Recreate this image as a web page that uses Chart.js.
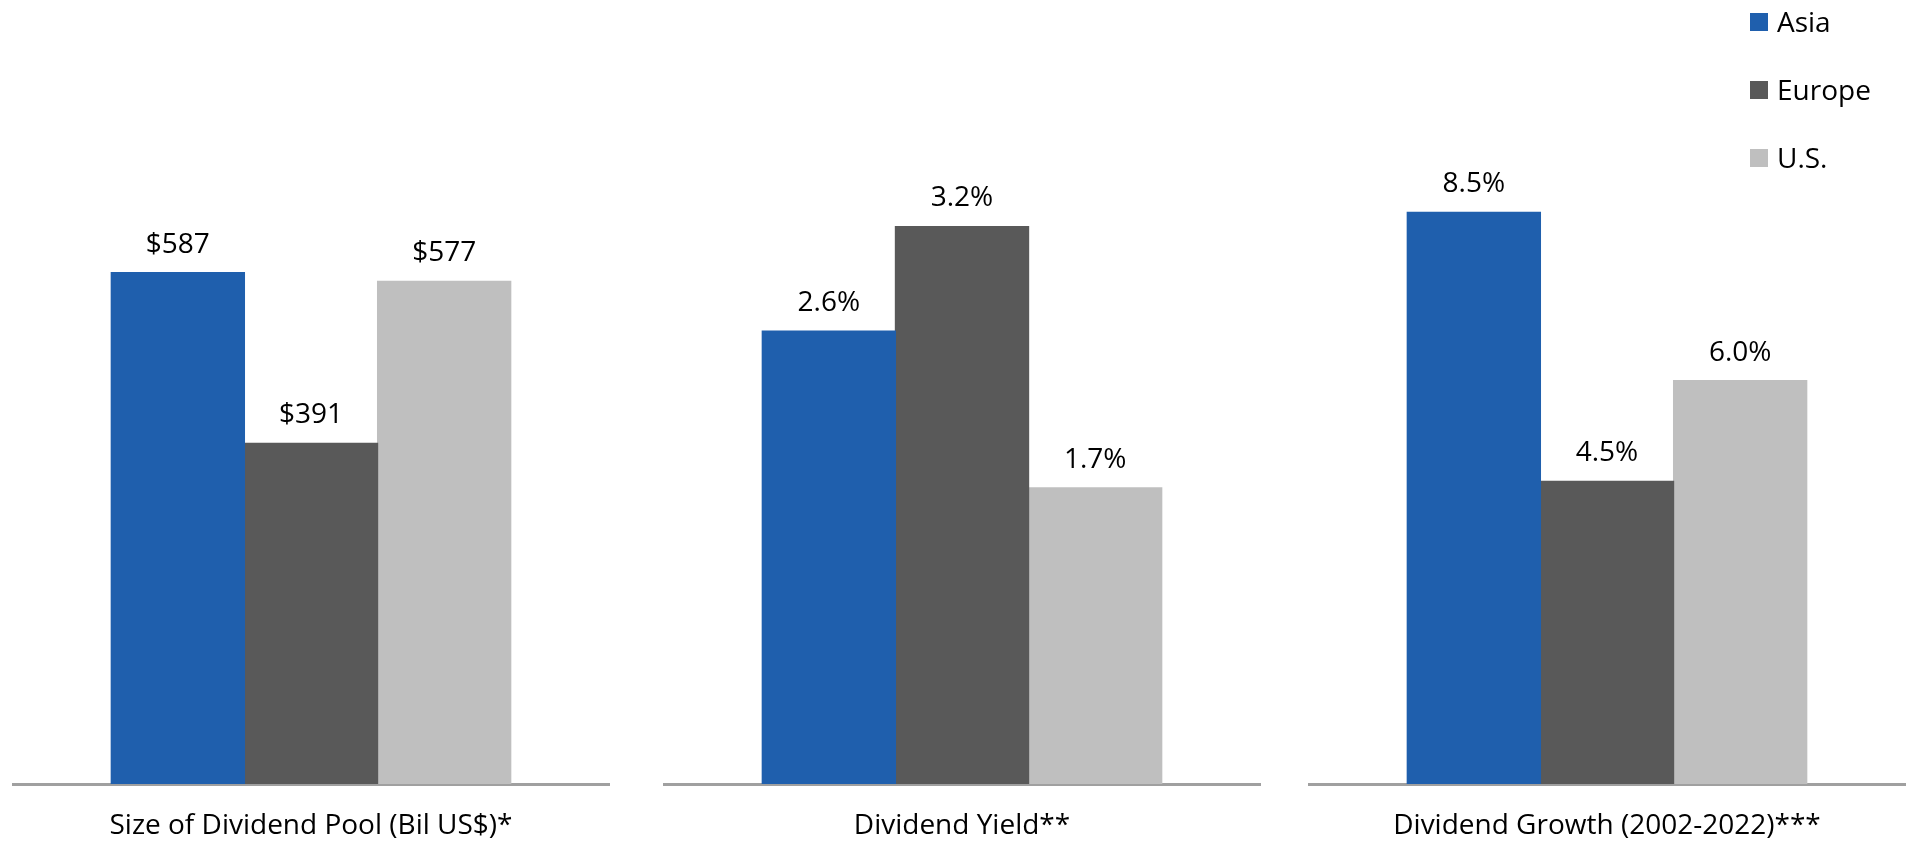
<!DOCTYPE html>
<html>
<head>
<meta charset="utf-8">
<script src="https://cdn.jsdelivr.net/npm/chart.js@4.4.1/dist/chart.umd.min.js"></script>
<style>
  body { margin: 0; background: #fff; width: 1911px; height: 843px; overflow: hidden; position: relative; font-family: "Open Sans", sans-serif; }
  canvas { position: absolute; top: 0; }
  #legend { position: absolute; left: 1750px; top: 0; }
  .item { position: absolute; left: 0; white-space: nowrap; font-size: 28px; color: #000; line-height: 28px; }
  .item span.box { display: inline-block; width: 18px; height: 18px; margin-right: 9px; vertical-align: 1px; }
</style>
</head>
<body>
<canvas id="c0" width="598" height="843" style="left:12px"></canvas>
<canvas id="c1" width="598" height="843" style="left:663px"></canvas>
<canvas id="c2" width="598" height="843" style="left:1308px"></canvas>
<div id="legend"></div>
<script>
// data
var categories = ['Size of Dividend Pool (Bil US$)*', 'Dividend Yield**', 'Dividend Growth (2002-2022)***'];
var seriesNames = ['Asia', 'Europe', 'U.S.'];
var asia = [587, 2.6, 8.5];
var europe = [391, 3.2, 4.5];
var us = [577, 1.7, 6.0];
var axisMax = [900, 4.5, 11.66];

var colors = ['#1F5FAD', '#595959', '#BFBFBF'];
var series = [asia, europe, us];

function fmt(panel, v) {
  if (panel === 0) return '$' + v;
  return v.toFixed(1) + '%';
}

var valueLabels = {
  id: 'valueLabels',
  afterDatasetsDraw: function (chart) {
    var ctx = chart.ctx;
    var panel = chart.options.panel;
    ctx.save();
    ctx.font = '28px "Open Sans"';
    ctx.fillStyle = '#000';
    ctx.textAlign = 'center';
    ctx.textBaseline = 'alphabetic';
    chart.data.datasets.forEach(function (ds, i) {
      chart.getDatasetMeta(i).data.forEach(function (bar, j) {
        ctx.fillText(fmt(panel, ds.data[j]), bar.x, bar.y - 20);
      });
    });
    ctx.restore();
  }
};

for (var p = 0; p < 3; p++) {
  new Chart(document.getElementById('c' + p), {
    type: 'bar',
    data: {
      labels: [categories[p]],
      datasets: series.map(function (s, i) {
        return {
          label: seriesNames[i],
          data: [s[p]],
          backgroundColor: colors[i],
          borderWidth: 0,
          inflateAmount: 0.6
        };
      })
    },
    options: {
      panel: p,
      responsive: false,
      animation: false,
      categoryPercentage: 0.668,
      barPercentage: 1,
      layout: { padding: 0 },
      plugins: { legend: { display: false }, tooltip: { enabled: false } },
      scales: {
        x: {
          grid: { display: false, drawTicks: false, tickLength: 0 },
          border: { display: true, color: '#A0A0A0', width: 3 },
          ticks: {
            color: '#000',
            padding: 25,
            maxRotation: 0,
            font: { family: 'Open Sans', size: 28, lineHeight: 1.2 }
          },
          afterFit: function (scale) { scale.height = 59; }
        },
        y: {
          display: false,
          min: 0,
          max: axisMax[p]
        }
      }
    },
    plugins: [valueLabels]
  });
}

// legend
var legend = document.getElementById('legend');
var rowY = [21, 89, 157];
seriesNames.forEach(function (name, i) {
  var d = document.createElement('div');
  d.className = 'item';
  d.style.top = (rowY[i] - 14) + 'px';
  d.innerHTML = '<span class="box" style="background:' + colors[i] + '"></span>' + name;
  legend.appendChild(d);
});
</script>
</body>
</html>
